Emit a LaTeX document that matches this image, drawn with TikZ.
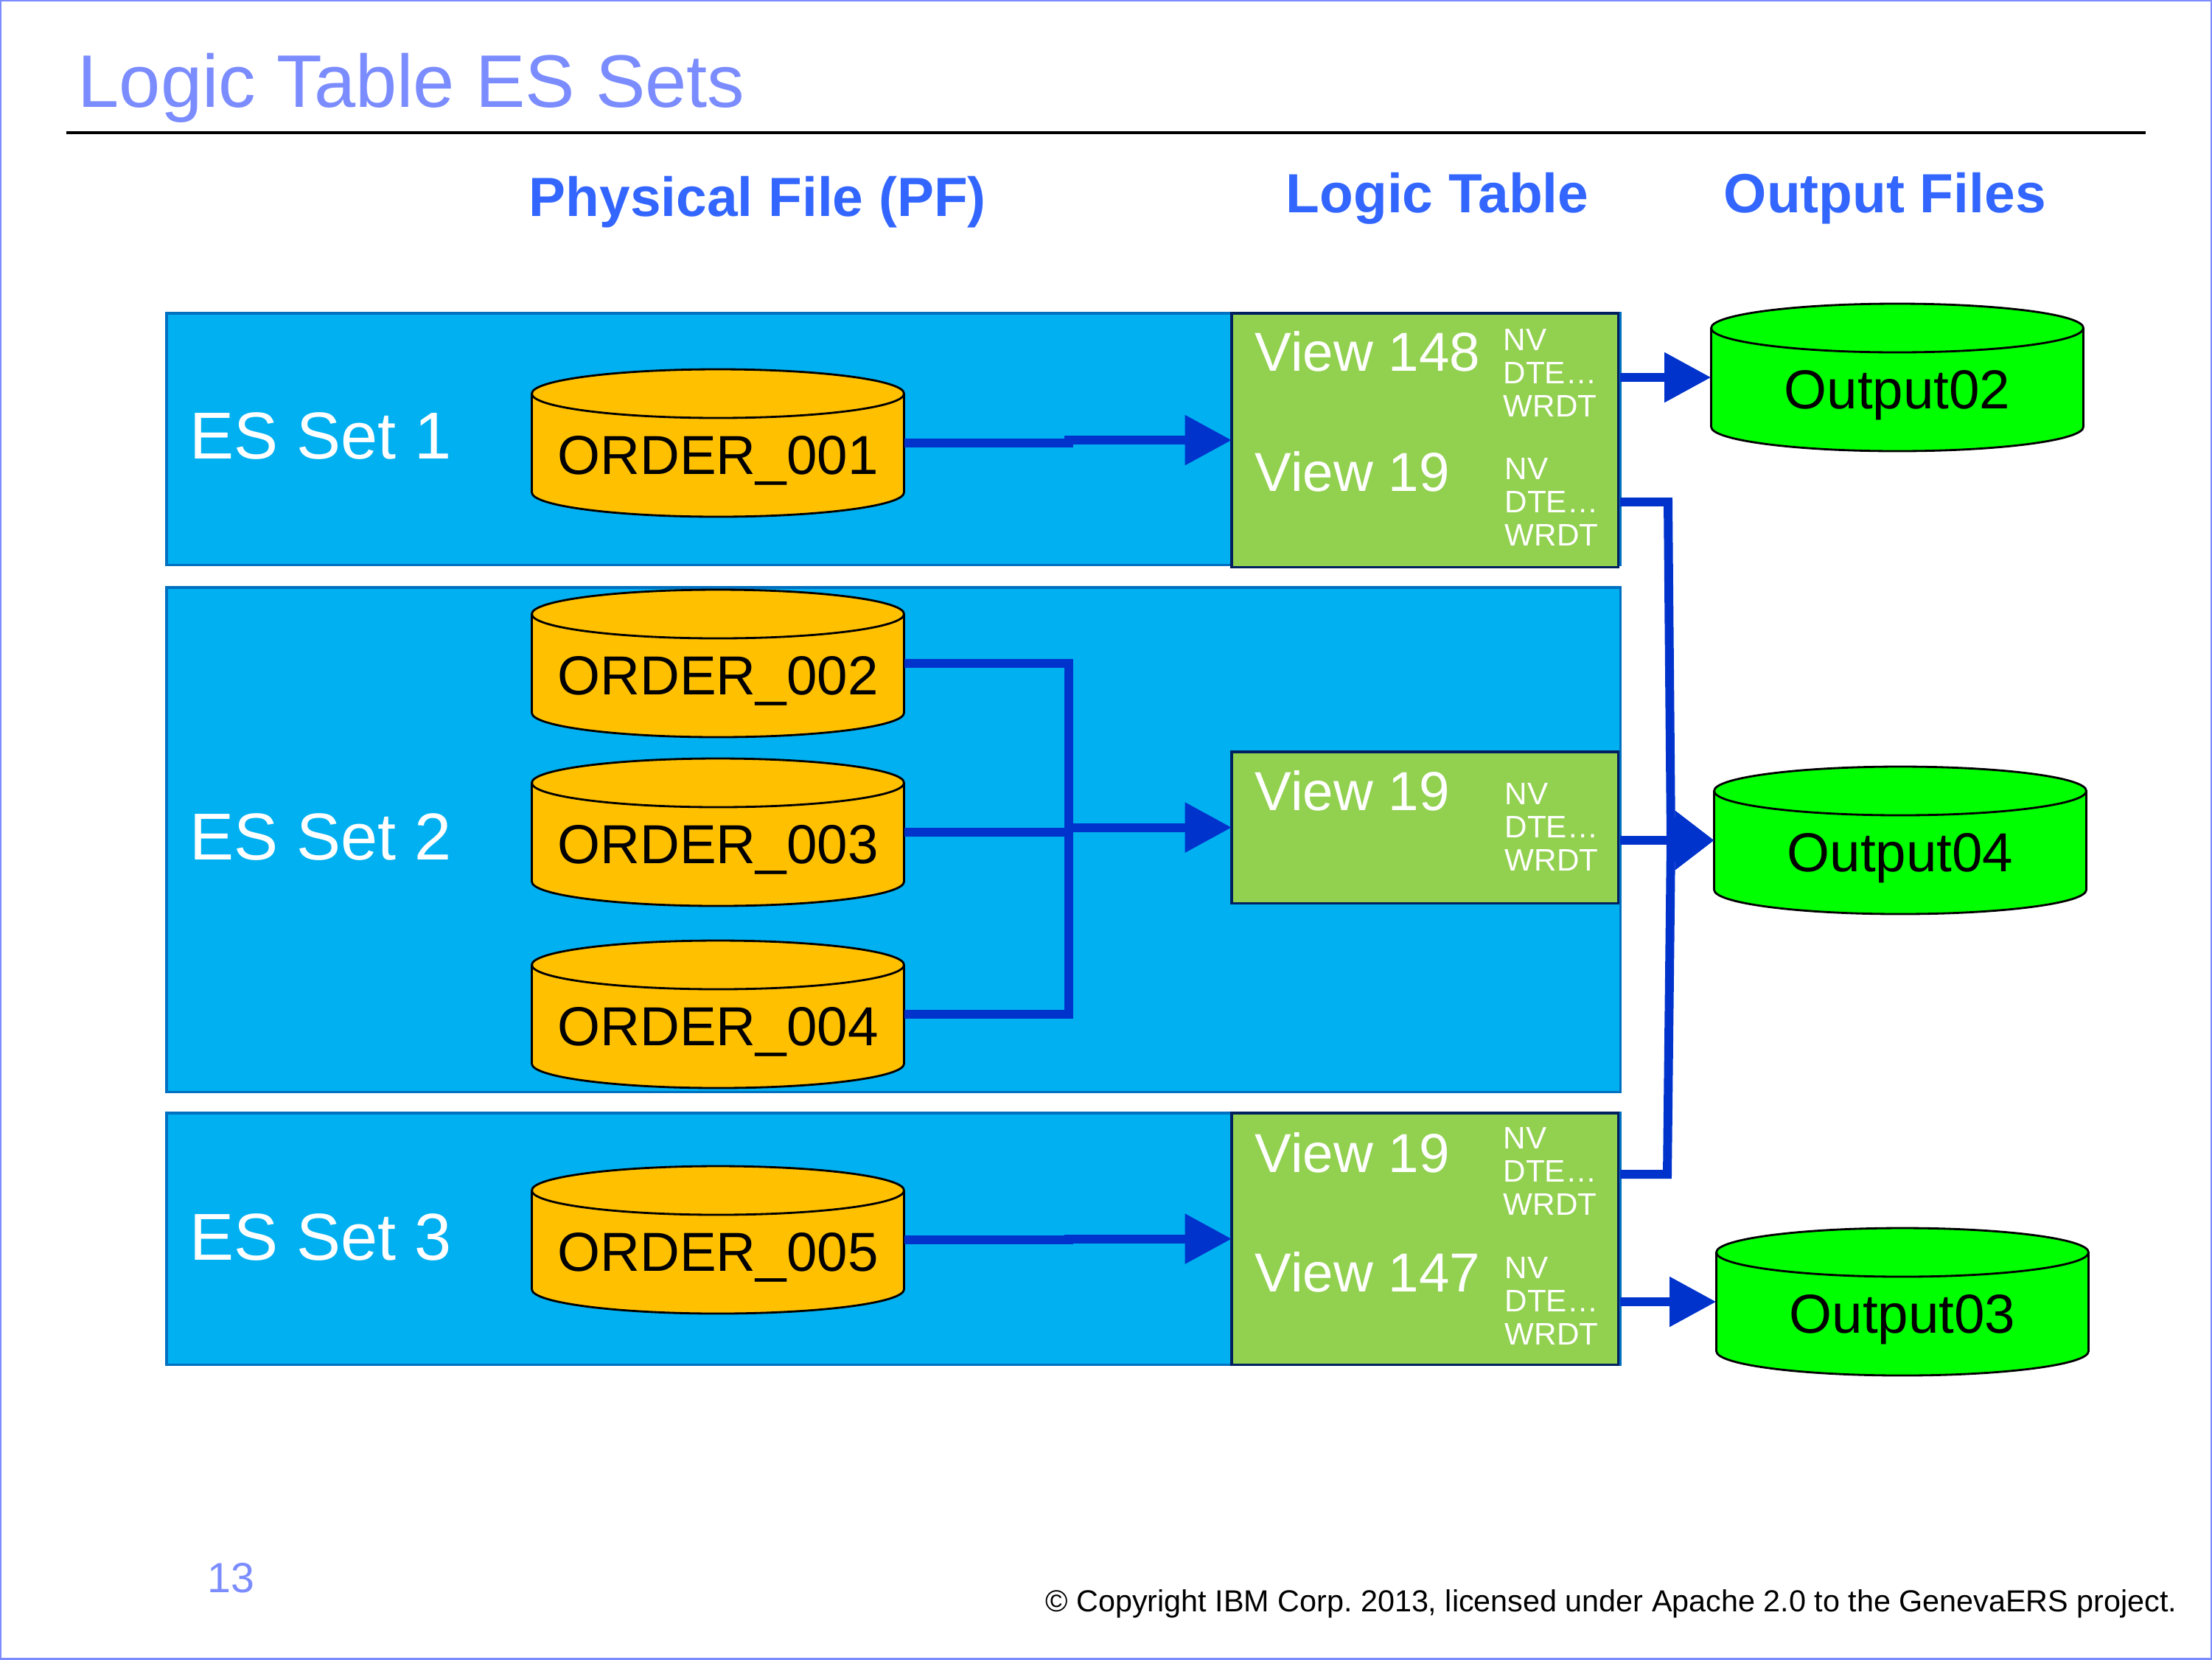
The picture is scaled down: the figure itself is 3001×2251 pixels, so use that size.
\documentclass[tikz,border=0pt]{standalone}
\usepackage{fontspec}
\setmainfont{Liberation Sans}
\usetikzlibrary{arrows.meta}
\definecolor{slideblue}{HTML}{7B8CFF}
\definecolor{headblue}{HTML}{3366FF}
\definecolor{bandblue}{HTML}{00B0F0}
\definecolor{bandline}{HTML}{0070C0}
\definecolor{viewgreen}{HTML}{92D050}
\definecolor{viewline}{HTML}{002060}
\definecolor{flowblue}{HTML}{0033CC}
\definecolor{fileorange}{HTML}{FFC000}
\definecolor{filegreen}{HTML}{00FF00}
\newcommand{\filecyl}[5]{%
  \begin{scope}[shift={(#2,#3)}]
  \draw [black,line width=0.8pt,fill=#4] (-252.5,67) arc (180:0:252.5 and 33) -- (252.5,-67) arc (0:-180:252.5 and 33) -- cycle;
  \draw [black,line width=0.8pt] (-252.5,67) arc (180:360:252.5 and 33);
  \node [filelabel] (#1) at (0,0) {\raisebox{-12.2pt}[0pt][0pt]{#5}};
  \end{scope}}
\begin{document}
\begin{tikzpicture}[x=0.01cm,y=0.01cm,
  band/.style={draw=bandline,line width=0.9pt,fill=bandblue,anchor=north west,inner sep=0pt,outer sep=0pt,minimum width=19.71cm},
  viewbox/.style={draw=viewline,line width=0.9pt,fill=viewgreen,anchor=north west,inner sep=0pt,outer sep=0pt,minimum width=5.24cm},
  filelabel/.style={inner sep=0pt,outer sep=0pt,minimum width=5.05cm,minimum height=2cm,font=\fontsize{21.2}{25}\selectfont},
  setlabel/.style={anchor=west,inner sep=0pt,text=white,font=\fontsize{25.6}{30}\selectfont},
  viewlabel/.style={anchor=west,inner sep=0pt,text=white,font=\fontsize{21.2}{25}\selectfont},
  fieldlist/.style={anchor=west,inner sep=0pt,text=white,align=left,font=\fontsize{12}{12.8}\selectfont},
  heading/.style={anchor=base west,inner sep=0pt,text=headblue,font=\fontsize{21.3}{25}\selectfont\bfseries},
  flow/.style={draw=flowblue,line width=3.4pt},
  flowin/.style={flow,-{Triangle[length=18pt,width=18.5pt]}},
  flowmerge/.style={flow,-{Triangle[length=15pt,width=22pt]}}]
\useasboundingbox (0,0) rectangle (3001,-2251);
\draw [slideblue,line width=1.1pt] (0,0) rectangle (3001,-2251);
\node [anchor=base west,inner sep=0pt,text=slideblue,font=\fontsize{28.75}{34}\selectfont] (title) at (105,-145) {Logic Table ES Sets};
\draw [black,line width=0.9pt] (90,-180) -- (2911,-180);
\node [heading] (headpf) at (717,-293) {Physical File (PF)};
\node [heading] (headlt) at (1744,-288) {Logic Table};
\node [heading] (headout) at (2338,-288) {Output Files};
\node [band,minimum height=3.41cm] (band1) at (226,-425) {};
\node [band,minimum height=6.84cm] (band2) at (226,-797) {};
\node [band,minimum height=3.41cm] (band3) at (226,-1510) {};
\node [setlabel] (set1) at (257,-591) {ES Set 1};
\node [setlabel] (set2) at (257,-1135) {ES Set 2};
\node [setlabel] (set3) at (257,-1678) {ES Set 3};
\node [viewbox,minimum height=3.44cm] (box1) at (1671,-425) {};
\node [viewbox,minimum height=2.05cm] (box2) at (1671,-1020) {};
\node [viewbox,minimum height=3.41cm] (box3) at (1671,-1510) {};
\node [viewlabel] (view148) at (1702,-477) {View 148};
\node [fieldlist] (list148) at (2039,-506) {NV\\DTE…\\WRDT};
\node [viewlabel] (view19a) at (1702,-640) {View 19};
\node [fieldlist] (list19a) at (2041,-681) {NV\\DTE…\\WRDT};
\node [viewlabel] (view19b) at (1702,-1073) {View 19};
\node [fieldlist] (list19b) at (2041,-1122) {NV\\DTE…\\WRDT};
\node [viewlabel] (view19c) at (1702,-1564) {View 19};
\node [fieldlist] (list19c) at (2039,-1589) {NV\\DTE…\\WRDT};
\node [viewlabel] (view147) at (1702,-1726) {View 147};
\node [fieldlist] (list147) at (2041,-1765) {NV\\DTE…\\WRDT};
\filecyl{order001}{974}{-601}{fileorange}{ORDER\_001}
\filecyl{order002}{974}{-900}{fileorange}{ORDER\_002}
\filecyl{order003}{974}{-1129}{fileorange}{ORDER\_003}
\filecyl{order004}{974}{-1376}{fileorange}{ORDER\_004}
\filecyl{order005}{974}{-1682}{fileorange}{ORDER\_005}
\filecyl{output02}{2574}{-512}{filegreen}{Output02}
\filecyl{output04}{2578}{-1140}{filegreen}{Output04}
\filecyl{output03}{2581}{-1766}{filegreen}{Output03}
\coordinate (bus) at (1450,-1130);
\coordinate (trunktop) at (2263,-681);
\coordinate (trunkmid) at (2267,-1140);
\coordinate (trunkbot) at (2262,-1593);
\draw [flowin] (order001.east) -- (order001.east -| bus) -- (bus |- box1.west) -- (box1.west);
\draw [flowin] (order005.east) -- (order005.east -| bus) -- (bus |- box3.west) -- (box3.west);
\draw [flowin] (order003.east) -- (order003.east -| bus) -- (bus |- box2.west) -- (box2.west);
\draw [flow] (order002.east) -- (order002.east -| bus) -- (order004.east -| bus) -- (order004.east);
\draw [flowin] (band1.east |- output02.west) -- (output02.west);
\draw [flowin] (band2.east |- output04.west) -- (output04.west);
\draw [flowin] (band3.east |- output03.west) -- (output03.west);
\draw [flowmerge] (band1.east |- trunktop) -- (trunktop) -- (trunkmid) -- (output04.west);
\draw [flowmerge] (band3.east |- trunkbot) -- (trunkbot) -- (trunkmid) -- (output04.west);
\node [anchor=base west,inner sep=0pt,text=slideblue,font=\fontsize{16.3}{20}\selectfont] (pagenum) at (281,-2160) {13};
\node [anchor=base east,inner sep=0pt,font=\fontsize{11.75}{14}\selectfont] (copyright) at (2954,-2186) {\frenchspacing © Copyright IBM Corp. 2013, licensed under Apache 2.0 to the GenevaERS project.};
\end{tikzpicture}
\end{document}
